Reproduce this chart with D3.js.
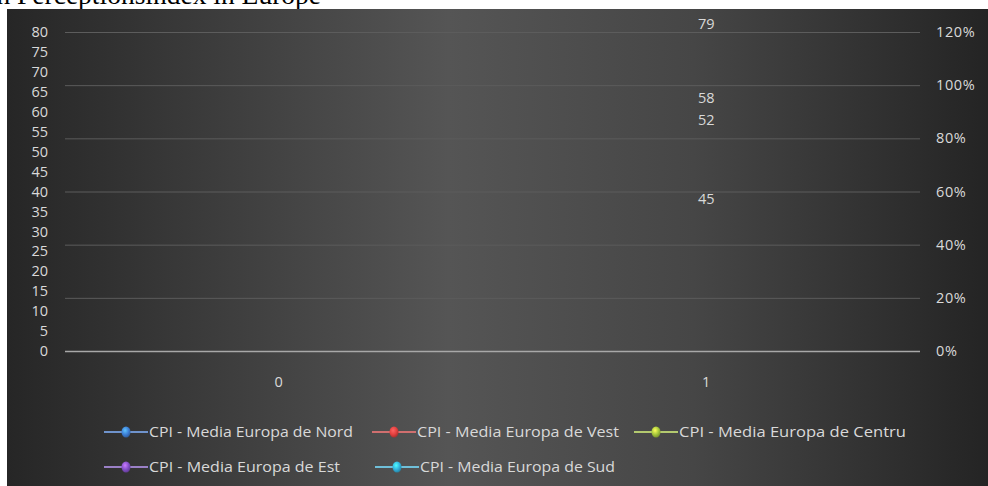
<!DOCTYPE html>
<html>
<head>
<meta charset="utf-8">
<script src="https://cdn.jsdelivr.net/npm/d3@7"></script>
<style>
  html, body { margin: 0; padding: 0; background: #ffffff; }
  svg { display: block; }
  text { font-family: "Open Sans", "Noto Sans", sans-serif; }
</style>
</head>
<body>
<svg id="chart" width="988" height="486"></svg>
<script>
// Category axis and series
const categories = ["0", "1"];
const seriesNames = [
  "CPI - Media Europa de Nord",
  "CPI - Media Europa de Vest",
  "CPI - Media Europa de Centru",
  "CPI - Media Europa de Est",
  "CPI - Media Europa de Sud"
];
// values per category (index 0 empty, index 1 holds the averages)
const nordValues   = [null, 79];
const vestValues   = [null, 58];
const centruValues = [null, 52];
const estValues    = [null, 45];
const sudValues    = [null, null];
const seriesValues = [nordValues, vestValues, centruValues, estValues, sudValues];

const leftTicks  = d3.range(0, 81, 5);
const rightTicks = [0, 0.2, 0.4, 0.6, 0.8, 1.0, 1.2];

const seriesColors = ["#3d7fd6", "#e2403f", "#a6c83c", "#8450c8", "#33b1dc"];
const lineColors   = ["#6f93cc", "#d06f6f", "#b3c96f", "#9a80c6", "#6fbfd9"];
// label placement relative to the point (px)
const labelShift   = [-12, -22, -24, 27, 0];

const W = 988, H = 486;
const svg = d3.select("#chart");
const defs = svg.append("defs");

// title partly hidden behind the chart panel
svg.append("text")
  .attr("x", 321).attr("y", 4)
  .attr("text-anchor", "end")
  .style("font-family", "'Liberation Serif', 'DejaVu Serif', serif")
  .style("font-size", "27.5px")
  .attr("fill", "#000")
  .text("Corruption Perceptionsindex in Europe");

// panel background
const bg = defs.append("linearGradient").attr("id", "bg")
  .attr("x1", "0").attr("x2", "1").attr("y1", "0").attr("y2", "0");
bg.append("stop").attr("offset", "0%").attr("stop-color", "#262626");
bg.append("stop").attr("offset", "20%").attr("stop-color", "#3b3b3b");
bg.append("stop").attr("offset", "45%").attr("stop-color", "#555555");
bg.append("stop").attr("offset", "70%").attr("stop-color", "#464646");
bg.append("stop").attr("offset", "100%").attr("stop-color", "#242424");

const panel = { x: 7, y: 9, w: W - 7, h: H - 9 };
svg.append("rect")
  .attr("x", panel.x).attr("y", panel.y)
  .attr("width", panel.w).attr("height", panel.h)
  .attr("fill", "url(#bg)");

// plot area
const plot = { left: 65, right: 920, top: 32, bottom: 351 };

const x = d3.scaleBand().domain(categories).range([plot.left, plot.right]);
const yLeft = d3.scaleLinear().domain([0, 80]).range([plot.bottom, plot.top]);
const yRight = d3.scaleLinear().domain([0, 1.2]).range([plot.bottom, plot.top]);

// gridlines follow the secondary axis
svg.append("g")
  .selectAll("line")
  .data(rightTicks.filter(d => d > 0))
  .join("line")
  .attr("x1", plot.left).attr("x2", plot.right)
  .attr("y1", d => yRight(d) + 0.5).attr("y2", d => yRight(d) + 0.5)
  .attr("stroke", "#5c5c5c").attr("stroke-width", 1);

// horizontal zero axis
svg.append("line")
  .attr("x1", plot.left).attr("x2", plot.right)
  .attr("y1", plot.bottom + 0.5).attr("y2", plot.bottom + 0.5)
  .attr("stroke", "#a8a8a8").attr("stroke-width", 1.5);

const axisText = sel => sel.selectAll("text")
  .attr("fill", "#d9d9d9")
  .style("font-size", "14.5px");

// left axis
const gL = svg.append("g")
  .attr("transform", `translate(${plot.left - 17},0)`)
  .call(d3.axisLeft(yLeft).tickValues(leftTicks).tickSize(0).tickPadding(0));
gL.select(".domain").remove();
axisText(gL);

// right axis
const gR = svg.append("g")
  .attr("transform", `translate(${plot.right + 16},0)`)
  .call(d3.axisRight(yRight).tickValues(rightTicks).tickSize(0).tickPadding(0)
    .tickFormat(d3.format(".0%")));
gR.select(".domain").remove();
axisText(gR);
gR.selectAll("text").style("letter-spacing", "0.6px");

// category axis
const gX = svg.append("g")
  .attr("transform", `translate(0,${plot.bottom + 26})`)
  .call(d3.axisBottom(x).tickSize(0).tickPadding(0));
gX.select(".domain").remove();
axisText(gX);

// data points and value labels
const points = [];
seriesValues.forEach((vals, si) => {
  vals.forEach((v, ci) => {
    if (v != null) points.push({ si, c: categories[ci], v });
  });
});

svg.append("g")
  .selectAll("text")
  .data(points)
  .join("text")
  .attr("x", d => x(d.c) + x.bandwidth() / 2)
  .attr("y", d => yLeft(d.v) + labelShift[d.si])
  .attr("dy", "0.35em")
  .attr("text-anchor", "middle")
  .attr("fill", "#d9d9d9")
  .style("font-size", "14.5px")
  .text(d => d3.format("d")(d.v));

// legend
seriesColors.forEach((c, i) => {
  const g = defs.append("radialGradient").attr("id", "mk" + i)
    .attr("cx", "40%").attr("cy", "35%").attr("r", "65%");
  g.append("stop").attr("offset", "0%").attr("stop-color", d3.color(c).brighter(1.2));
  g.append("stop").attr("offset", "60%").attr("stop-color", c);
  g.append("stop").attr("offset", "100%").attr("stop-color", d3.color(c).darker(0.8));
});

const legendPos = [
  { x: 104, y: 432, w: 204 }, { x: 372, y: 432, w: 202 }, { x: 634, y: 432, w: 227 },
  { x: 104, y: 467, w: 191 }, { x: 375, y: 467, w: 195 }
];
const legend = svg.append("g")
  .selectAll("g")
  .data(seriesNames)
  .join("g")
  .attr("transform", (d, i) => `translate(${legendPos[i].x},${legendPos[i].y})`);

legend.append("line")
  .attr("x1", 0).attr("x2", 44).attr("y1", 0).attr("y2", 0)
  .attr("stroke", (d, i) => lineColors[i]).attr("stroke-width", 2.2);
legend.append("ellipse")
  .attr("cx", 22).attr("cy", 0).attr("rx", 4.5).attr("ry", 5.5)
  .attr("fill", (d, i) => `url(#mk${i})`);
legend.append("text")
  .attr("x", 45).attr("y", 0).attr("dy", "0.35em")
  .attr("fill", "#d9d9d9")
  .style("font-size", "14.5px")
  .attr("textLength", (d, i) => legendPos[i].w)
  .attr("lengthAdjust", "spacingAndGlyphs")
  .text(d => d);
</script>
</body>
</html>
